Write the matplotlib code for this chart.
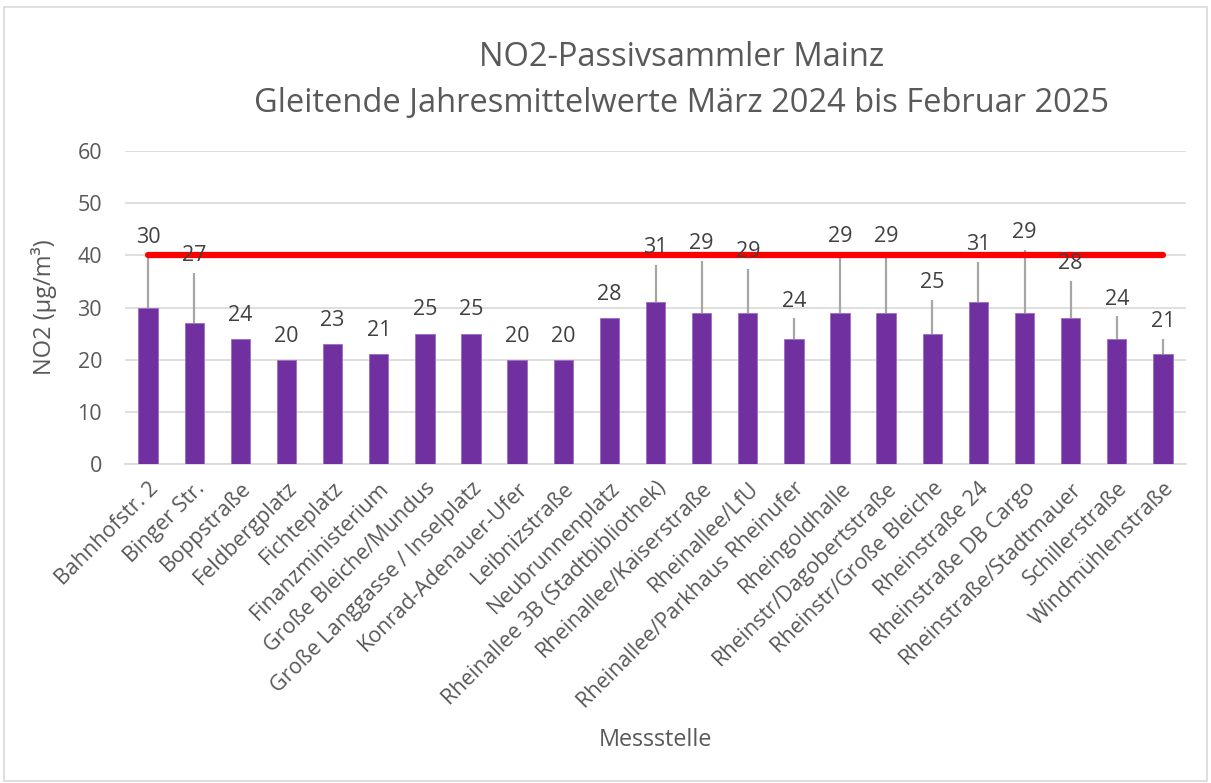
import numpy as np
import matplotlib
matplotlib.use("Agg")
import matplotlib.pyplot as plt
from matplotlib.patches import Rectangle

plt.rcParams['font.family'] = ['Open Sans', 'DejaVu Sans']

stations = ["Bahnhofstr. 2", "Binger Str.", "Boppstraße", "Feldbergplatz", "Fichteplatz",
            "Finanzministerium", "Große Bleiche/Mundus", "Große Langgasse / Inselplatz",
            "Konrad-Adenauer-Ufer", "Leibnizstraße", "Neubrunnenplatz",
            "Rheinallee 3B (Stadtbibliothek)", "Rheinallee/Kaiserstraße", "Rheinallee/LfU",
            "Rheinallee/Parkhaus Rheinufer", "Rheingoldhalle", "Rheinstr/Dagobertstraße",
            "Rheinstr/Große Bleiche", "Rheinstraße 24", "Rheinstraße DB Cargo",
            "Rheinstraße/Stadtmauer", "Schillerstraße", "Windmühlenstraße"]
values = [30, 27, 24, 20, 23, 21, 25, 25, 20, 20, 28, 31, 29, 29, 24, 29, 29, 25, 31, 29, 28, 24, 21]
# upper end of the grey error bars (NaN = none)
err_top = [40.0, 36.7, np.nan, np.nan, np.nan, np.nan, np.nan, np.nan, np.nan, np.nan, np.nan,
           38.1, 39.0, 37.4, 27.9, 40.3, 40.3, 31.5, 38.8, 41.0, 35.1, 28.3, 24.0]
limit = 40
yticks = [0, 10, 20, 30, 40, 50, 60]

text_col = "#595959"
fig = plt.figure(figsize=(12.11, 7.83), dpi=100)
W, H = 1211, 783
ax = fig.add_axes([125 / W, 1 - 464 / H, (1186 - 125) / W, (464 - 151) / H])

x = np.arange(len(stations))
vals = np.array(values, dtype=float)
tops = np.array(err_top, dtype=float)
up = np.where(np.isnan(tops), 0, tops - vals)

ax.bar(x, vals, width=0.42, color="#7030A0", edgecolor="#9D6CC0", linewidth=0.6, zorder=3)
has = ~np.isnan(tops)
ax.errorbar(x[has], vals[has], yerr=[np.zeros(has.sum()), up[has]], fmt="none",
            ecolor="#A6A6A6", elinewidth=1.6, capsize=0, zorder=4)
ax.plot(x, [limit] * len(x), color="#FF0000", linewidth=4.5, solid_capstyle="round", zorder=5)

for xi, v, t in zip(x, vals, tops):
    ytop = v if np.isnan(t) else max(v, t)
    off = 17 if np.isnan(t) else 12.5
    ax.annotate(f"{int(v)}", (xi, ytop), xytext=(0, off), textcoords="offset points",
                ha="center", va="center", fontsize=15.5, color="#404040", zorder=6)

ax.set_xlim(-0.5, len(x) - 0.5)
ax.set_ylim(0, 60)
ax.set_yticks(yticks)
ax.yaxis.grid(True, color="#D9D9D9", linewidth=1.2, zorder=0)
ax.set_axisbelow(True)
for s in ["top", "right", "left"]:
    ax.spines[s].set_visible(False)
ax.spines["bottom"].set_color("#D9D9D9")
ax.spines["bottom"].set_linewidth(1.2)
ax.tick_params(axis="both", length=0, colors=text_col, labelsize=15.5)
ax.tick_params(axis="y", pad=16.5)
ax.set_xticks(x)
ax.set_xticklabels(stations, rotation=45, ha="right", rotation_mode="anchor", color=text_col)
ax.tick_params(axis="x", pad=10)

ax.set_ylabel("NO2 (µg/m³)", fontsize=17, color=text_col)
ax.yaxis.set_label_coords((57 - 125) / (1186 - 125), 0.5)
fig.text((125 + 1186) / 2 / W, 1 - 740 / H, "Messstelle", ha="center", va="center",
         fontsize=16.8, color=text_col)
fig.text(682 / W, 1 - 58 / H, "NO2-Passivsammler Mainz", ha="center", va="center",
         fontsize=23.5, color=text_col)
fig.text(682 / W, 1 - 103 / H, "Gleitende Jahresmittelwerte März 2024 bis Februar 2025",
         ha="center", va="center", fontsize=23.5, color=text_col)

fig.patches.append(Rectangle((4 / W, 2 / H), 1 - 8 / W, 1 - 9 / H, transform=fig.transFigure,
                             fill=False, edgecolor="#D9D9D9", linewidth=1.2))
fig.savefig("out.png", dpi=100)
